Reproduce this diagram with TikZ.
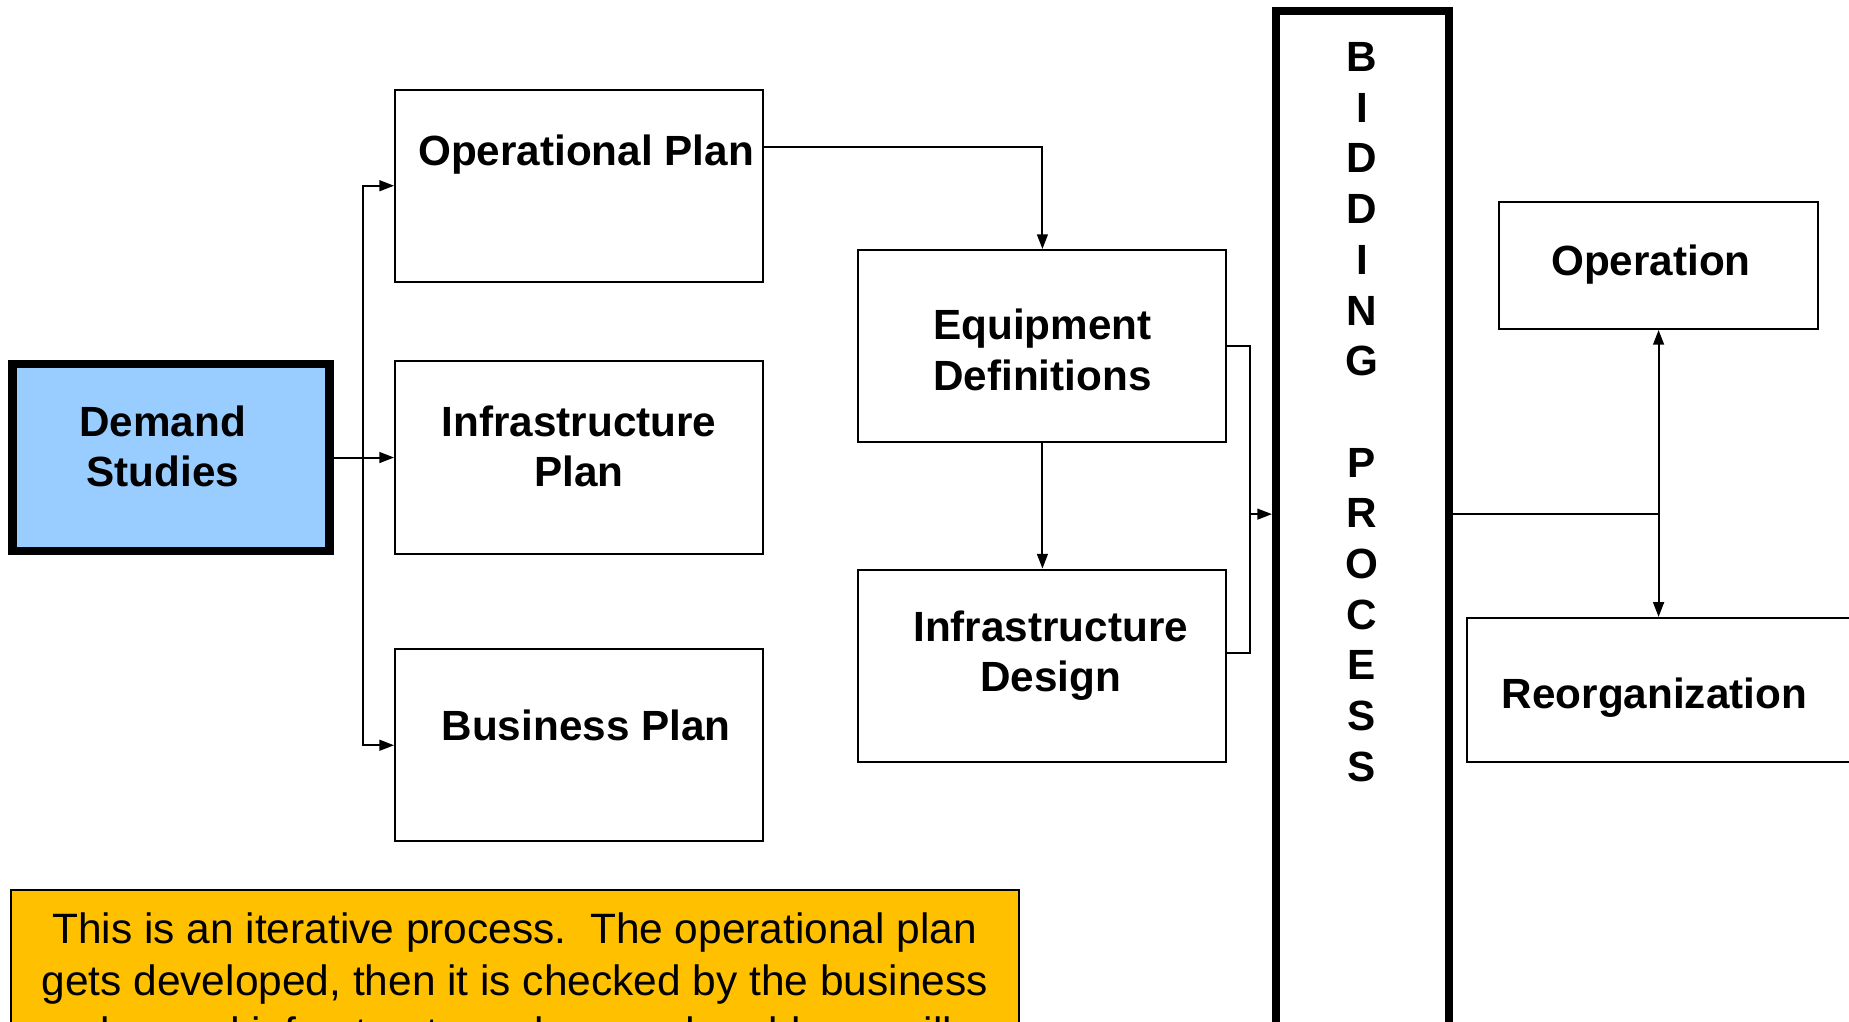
\documentclass[tikz,border=0pt]{standalone}
\usepackage{fontspec}
\setmainfont{Liberation Sans}
\usetikzlibrary{arrows.meta}
\definecolor{demandblue}{HTML}{99CCFF}
\definecolor{noteyellow}{HTML}{FFC000}
\begin{document}
\begin{tikzpicture}[x=0.6pt,y=-0.6pt,
  box/.style={draw, line width=1pt, rectangle, inner sep=0pt},
  thickbox/.style={draw, line width=4.2pt, rectangle, inner sep=0pt},
  lbl/.style={font=\fontsize{21.5}{25.8}\selectfont\bfseries, align=center, inner sep=0pt},
  conn/.style={line width=1pt},
  arr/.style={conn, -{Triangle[length=7.5pt,width=5.5pt]}},
  planbox/.style={box, minimum width=187.2pt, minimum height=97.8pt}
]
\useasboundingbox (0,0) rectangle (1568,866);
\clip (0,0) rectangle (1568,866);

% nodes
\node[thickbox, fill=demandblue, minimum width=161.4pt, minimum height=95.4pt] (demand) at (145,388) {};
\node[lbl] (demandt) at (138,378.5) {Demand\\Studies};

\node[planbox] (oper) at (491,157.5) {};
\node[lbl, anchor=base] (opert) at (497,140) {Operational Plan};

\node[planbox] (infra) at (491,388) {};
\node[lbl] (infrat) at (491,378.5) {Infrastructure\\Plan};

\node[planbox] (bus) at (491,632) {};
\node[lbl, anchor=base] (bust) at (497,628) {Business Plan};

\node[planbox] (equip) at (884,293.5) {};
\node[lbl] (equipt) at (884,296.5) {Equipment\\Definitions};

\node[planbox] (design) at (884,564.5) {};
\node[lbl] (designt) at (891,556) {Infrastructure\\Design};

\node[thickbox, minimum width=88pt, minimum height=595pt] (bid) at (1155.5,505) {};
\node[lbl] (bidt) at (1155,349.5) {B\\I\\D\\D\\I\\N\\G\\[25.8pt]P\\R\\O\\C\\E\\S\\S};

\node[box, minimum width=162.6pt, minimum height=64.8pt] (operation) at (1406.5,225) {};
\node[lbl, anchor=base] (operationt) at (1400,234) {Operation};

\node[box, minimum width=213.6pt, minimum height=73.2pt] (reorg) at (1422,585) {};
\node[lbl, anchor=base] (reorgt) at (1403,601) {Reorganization};

\node[box, fill=noteyellow, minimum width=513pt, minimum height=147pt] (notebox) at (436.5,877.5) {};
\node[font=\fontsize{21.6}{26.4}\selectfont, align=center, inner sep=0pt] (note) at (436.5,835)
  {This is an iterative process.\ \ The operational plan\\gets developed, then it is checked by the business\\plan and infrastructure plans and problems will};

% connectors
\coordinate (j1) at (308,388);
\draw[arr] (demand.east) -- (infra.west);
\draw[arr] (j1) |- (oper.west);
\draw[arr] (j1) |- (bus.west);

\coordinate (y125) at (0,125);
\draw[arr] (oper.east |- y125) -| (equip.north);
\draw[arr] (equip.south) -- (design.north);

\coordinate (j2) at (1060,436);
\coordinate (y554) at (0,554);
\draw[conn] (equip.east) -| (j2) |- (design.east |- y554);
\draw[arr] (j2) -- (bid.west |- j2);

\coordinate (j3) at (operation.south |- j2);
\draw[conn] (bid.east |- j2) -- (j3);
\draw[arr] (j3) -- (operation.south);
\draw[arr] (j3) -- (operation.south |- reorg.north);
\end{tikzpicture}
\end{document}
